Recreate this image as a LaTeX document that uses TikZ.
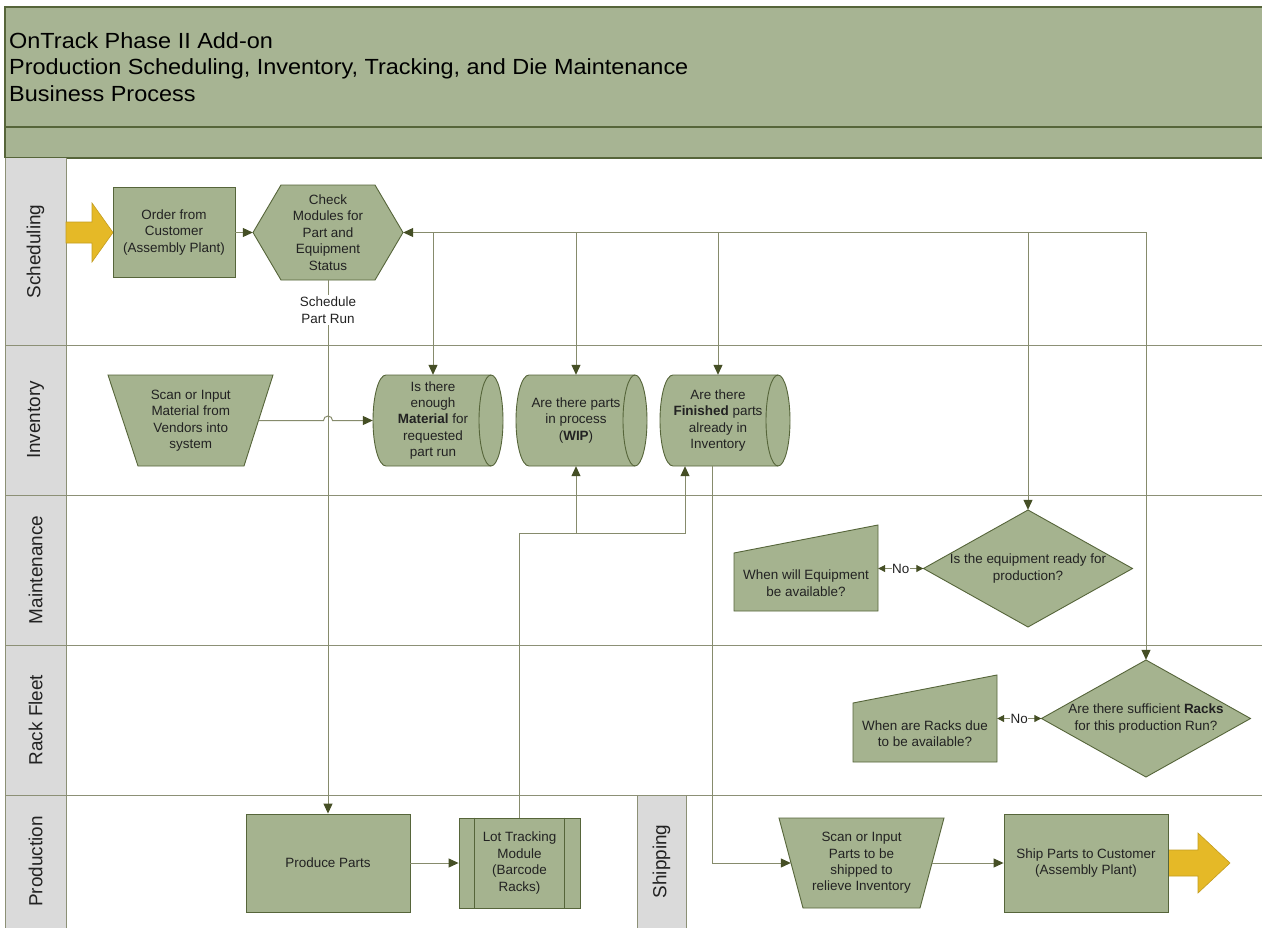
\documentclass[tikz,border=0pt]{standalone}
\usepackage{fontspec}
\setmainfont{Liberation Sans}
\newfontfamily\titlefont[FakeStretch=1.07]{Liberation Sans}
\usetikzlibrary{arrows.meta,calc}
\definecolor{hdr}{HTML}{A7B493}
\definecolor{shp}{HTML}{A5B38F}
\definecolor{bdr}{HTML}{56653A}
\definecolor{lnc}{HTML}{868B6C}
\definecolor{tipc}{HTML}{454F25}
\definecolor{lanec}{HTML}{8C9076}
\definecolor{lblc}{HTML}{DADADA}
\definecolor{ylw}{HTML}{E5B927}
\definecolor{txt}{HTML}{222222}
\begin{document}
\begin{tikzpicture}[x=1bp,y=-1bp,
  body/.style={font=\fontsize{13.5}{16.5}\selectfont, text=txt, align=center, inner sep=0pt},
  shapefill/.style={draw=bdr, fill=shp, line width=0.9bp},
  boxnode/.style={body, shapefill},
  lanelbl/.style={font=\fontsize{19}{22}\selectfont, text=txt, rotate=90, inner sep=0pt},
  conn/.style={draw=lnc, line width=1bp},
  arr/.style={conn, -{Triangle[length=10bp,width=9bp,color=tipc]}},
  arrtwo/.style={conn, {Triangle[length=10bp,width=9bp,color=tipc]}-{Triangle[length=10bp,width=9bp,color=tipc]}},
  arrsmall/.style={conn, {Triangle[length=7bp,width=7bp,color=tipc]}-{Triangle[length=7bp,width=7bp,color=tipc]}},
  arrowfill/.style={fill=ylw, draw=ylw!85!black, line width=0.6bp},
  tag/.style={body, fill=white, inner sep=1.5bp}
]
\useasboundingbox (0,0) rectangle (1262,928);
\fill[white] (0,0) rectangle (1262,928);
% header
\fill[hdr] (5,7) rectangle (1262,158);
\draw[bdr, line width=1.5bp] (1262,7) -- (5,7) -- (5,158);
\draw[bdr, line width=1.2bp] (5,127) -- (1262,127);
\draw[bdr, line width=1.2bp] (5,158) -- (1262,158);
\node[anchor=north west, align=left, inner sep=0pt, font=\titlefont\fontsize{22}{27}\selectfont, text=black] (title) at (9,32)
  {OnTrack Phase II Add-on\\Production Scheduling, Inventory, Tracking, and Die Maintenance\\Business Process};
% lane label column
\fill[lblc] (5,158) rectangle (66,928);
\fill[lblc] (637,795) rectangle (686,928);
\draw[lanec] (5,158) -- (5,928);
\draw[lanec] (66,158) -- (66,928);
\draw[lanec] (637,795) -- (637,928);
\draw[lanec] (686,795) -- (686,928);
\foreach \yy in {345,495,645,795} \draw[lanec, line width=0.9bp] (5,\yy) -- (1262,\yy);
\node[lanelbl] (l1) at (35.5,251.5) {Scheduling};
\node[lanelbl] (l2) at (35.5,420) {Inventory};
\node[lanelbl] (l3) at (35.5,570) {Maintenance};
\node[lanelbl] (l4) at (35.5,720) {Rack Fleet};
\node[lanelbl] (l5) at (35.5,861.5) {Production};
\node[lanelbl] (l6) at (661.5,861.5) {Shipping};

% yellow arrows
\filldraw[arrowfill] (66,222) -- (92,222) -- (92,203) -- (113,232.5) -- (92,262) -- (92,243) -- (66,243) -- cycle;
\filldraw[arrowfill] (1168,850) -- (1198,850) -- (1198,833) -- (1230,863) -- (1198,893) -- (1198,876) -- (1168,876) -- cycle;

% scheduling lane
\node[boxnode, minimum width=122bp, minimum height=90bp] (order) at (174,232.5) {Order from\\Customer\\(Assembly Plant)};
\filldraw[shapefill] (253,232.5) -- (281,185) -- (375,185) -- (403,232.5) -- (375,280) -- (281,280) -- cycle;
\node[body, minimum width=150bp, minimum height=95bp] (hex) at (328,232.5) {Check\\Modules for\\Part and\\Equipment\\Status};

% inventory lane
\filldraw[shapefill] (108,375) -- (273,375) -- (244,466) -- (138,466) -- cycle;
\node[body, minimum width=135.5bp, minimum height=91bp] (smat) at (190.75,420.5) {Scan or Input\\Material from\\Vendors into\\system};

\filldraw[shapefill] (386,375) -- (491,375) arc[start angle=270,end angle=450,x radius=12,y radius=45.5] -- (386,466) arc[start angle=90,end angle=270,x radius=13,y radius=45.5] -- cycle;
\draw[bdr, line width=0.9bp] (491,375) arc[start angle=270,end angle=90,x radius=12,y radius=45.5];
\node[body, minimum width=120bp, minimum height=91bp] (mat) at (433,420.5) {Is there\\enough\\\textbf{Material} for\\requested\\part run};

\filldraw[shapefill] (529,375) -- (635,375) arc[start angle=270,end angle=450,x radius=12,y radius=45.5] -- (529,466) arc[start angle=90,end angle=270,x radius=13,y radius=45.5] -- cycle;
\draw[bdr, line width=0.9bp] (635,375) arc[start angle=270,end angle=90,x radius=12,y radius=45.5];
\node[body, minimum width=120bp, minimum height=91bp] (wip) at (576,420.5) {Are there parts\\in process\\(\textbf{WIP})};

\filldraw[shapefill] (673,375) -- (778,375) arc[start angle=270,end angle=450,x radius=12,y radius=45.5] -- (673,466) arc[start angle=90,end angle=270,x radius=13,y radius=45.5] -- cycle;
\draw[bdr, line width=0.9bp] (778,375) arc[start angle=270,end angle=90,x radius=12,y radius=45.5];
\node[body, minimum width=120bp, minimum height=91bp] (fin) at (718,420.5) {Are there\\\textbf{Finished} parts\\already in\\Inventory};

% maintenance lane
\filldraw[shapefill] (734,553) -- (878,525) -- (878,611) -- (734,611) -- cycle;
\node[body, minimum width=144bp] (einp) at (806,583) {When will Equipment\\be available?};
\filldraw[shapefill] (923.5,568.5) -- (1028,510) -- (1132.5,568.5) -- (1028,627) -- cycle;
\node[body, minimum width=209bp, minimum height=117bp] (ediam) at (1028,568.5) {Is the equipment ready for\\production?};

% rack fleet lane
\filldraw[shapefill] (853,703) -- (997,675) -- (997,762) -- (853,762) -- cycle;
\node[body, minimum width=144bp] (rinp) at (925,733.5) {When are Racks due\\to be available?};
\filldraw[shapefill] (1041.5,718.5) -- (1146,660) -- (1250.5,718.5) -- (1146,777) -- cycle;
\node[body, minimum width=209bp, minimum height=117bp] (rdiam) at (1146,718.5) {Are there sufficient \textbf{Racks}\\for this production Run?};

% production lane
\node[boxnode, minimum width=164bp, minimum height=98bp] (produce) at (328,863) {Produce Parts};
\node[boxnode, minimum width=121bp, minimum height=90bp] (lot) at (519.5,863) {Lot Tracking\\Module\\(Barcode\\Racks)};
\draw[bdr, line width=0.9bp] ($(lot.north west)+(16,0)$) -- ($(lot.south west)+(16,0)$);
\draw[bdr, line width=0.9bp] ($(lot.north east)+(-16,0)$) -- ($(lot.south east)+(-16,0)$);

% shipping
\filldraw[shapefill] (779,818) -- (944,818) -- (920,908) -- (803,908) -- cycle;
\node[body, minimum width=141bp, minimum height=90bp] (scanp) at (861.5,863) {Scan or Input\\Parts to be\\shipped to\\relieve Inventory};
\node[boxnode, minimum width=164bp, minimum height=98bp] (ship) at (1086,863) {Ship Parts to Customer\\(Assembly Plant)};

% connectors
\draw[arr] (order.east) -- (hex.west);
\draw[arr] (hex.south) -- node[tag, pos=0.056] (srun) {Schedule\\Part Run} (produce.north);
\draw[arrtwo] (hex.east) -- (hex.east -| rdiam.north) -- (rdiam.north);
\draw[arr] (hex.east -| mat.north) -- (mat.north);
\draw[arr] (hex.east -| wip.north) -- (wip.north);
\draw[arr] (hex.east -| fin.north) -- (fin.north);
\draw[arr] (hex.east -| ediam.north) -- (ediam.north);
\draw[arr] (smat.east) -- ($(hex.south |- mat.west)+(-4.5,0)$) arc[start angle=180,end angle=360,radius=4.5] -- (mat.west);
\coordinate (jn) at (0,533);
\draw[arr] (lot.north) -- (lot.north |- jn) -| ([xshift=-33bp]fin.south);
\draw[arr] (wip.south |- jn) -- (wip.south);
\draw[arr] ([xshift=-6bp]fin.south) |- (scanp.west);
\draw[arr] (scanp.east) -- (ship.west);
\draw[arr] (produce.east) -- (lot.west);
\draw[arrsmall] (ediam.west) -- node[tag, inner sep=0.5bp] (no1) {No} (ediam.west -| einp.east);
\draw[arrsmall] (rdiam.west) -- node[tag, inner sep=0.5bp] (no2) {No} (rdiam.west -| rinp.east);
\end{tikzpicture}
\end{document}
